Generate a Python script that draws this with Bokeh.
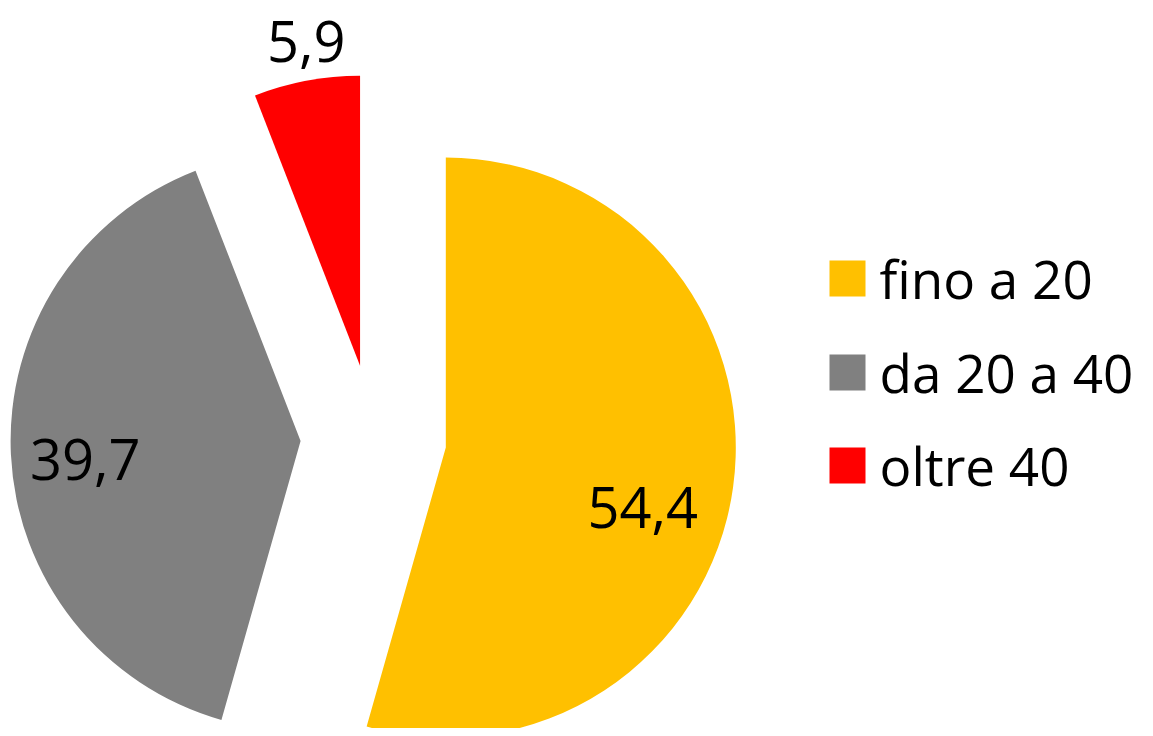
import math
from bokeh.plotting import figure
from bokeh.models import Range1d, ColumnDataSource
from bokeh.core.properties import value
from bokeh.embed import file_html
from bokeh.resources import INLINE

# ---- data ----
categories = ["fino a 20", "da 20 a 40", "oltre 40"]
values = [54.4, 39.7, 5.9]
labels = ["54,4", "39,7", "5,9"]
colors = ["#FFC000", "#808080", "#FF0000"]

# ---- layout constants ----
W, H = 1137, 728
CX, CY = 373, 291          # pie centre (data coords)
R = 290                    # radius
EXPL = 73                  # explosion distance
FONT = "Open Sans"
LABEL_R = [0.71, 0.745, 1.135]      # label distance (fraction of R) from slice apex
LABEL_ANG = [107.0, 265.0, 350.6]   # clockwise from top, degrees

p = figure(width=W, height=H, output_backend="svg", toolbar_location=None,
           x_range=Range1d(0, W), y_range=Range1d(0, H), min_border=0)
p.axis.visible = False
p.grid.visible = False
p.outline_line_color = None
p.background_fill_color = "white"
p.border_fill_color = "white"

total = sum(values)
cum = 0.0
xs, ys, starts, ends, lx, ly = [], [], [], [], [], []
for i, v in enumerate(values):
    t1 = cum / total * 360.0
    t2 = (cum + v) / total * 360.0
    cum += v
    tm = math.radians((t1 + t2) / 2)
    ax = CX + EXPL * math.sin(tm)
    ay = CY + EXPL * math.cos(tm)
    xs.append(ax)
    ys.append(ay)
    starts.append(math.radians(90 - t2))
    ends.append(math.radians(90 - t1))
    la = math.radians(LABEL_ANG[i])
    lx.append(ax + LABEL_R[i] * R * math.sin(la))
    ly.append(ay + LABEL_R[i] * R * math.cos(la))

src = ColumnDataSource(dict(x=xs, y=ys, s=starts, e=ends, c=colors,
                            lx=lx, ly=ly, lab=labels))
p.wedge(x="x", y="y", radius=R, start_angle="s", end_angle="e",
        fill_color="c", line_color=None, source=src)
p.text(x="lx", y="ly", text="lab", source=src, text_align="center",
       text_baseline="middle", text_font=value(FONT), text_font_size="56px",
       text_color="black")

# ---- legend ----
leg_y = [450.0, 356.0, 263.0]
p.rect(x=[847.0] * 3, y=leg_y, width=36, height=36, fill_color=colors,
       line_color=None)
p.text(x=[879.0] * 3, y=leg_y, text=categories, text_align="left",
       text_baseline="middle", text_font=value(FONT), text_font_size="53px",
       text_color="black")

open("out.html", "w").write(file_html(p, INLINE))
